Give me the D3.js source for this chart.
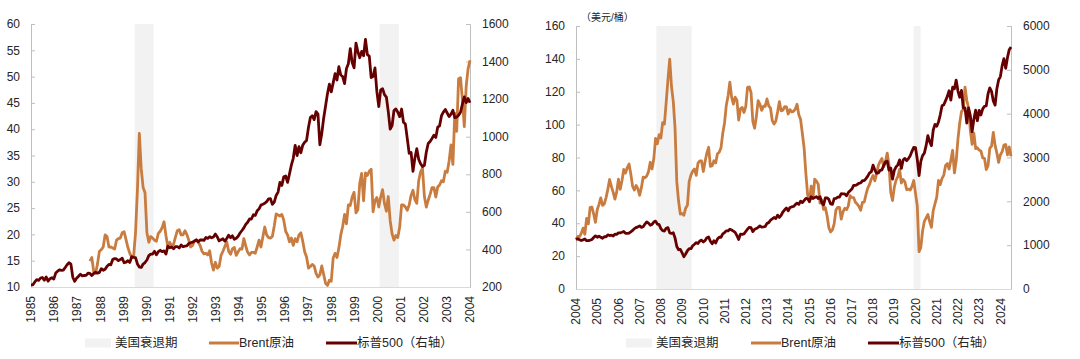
<!DOCTYPE html>
<html><head><meta charset="utf-8">
<script src="https://cdn.jsdelivr.net/npm/d3@7"></script>
<style>
html,body{margin:0;padding:0;background:#fff;}
svg{display:block;font-family:"Liberation Sans",Arial,"Noto Sans CJK SC",sans-serif;}
</style></head>
<body><svg id="c" width="1080" height="359"></svg>
<script>
// ---------- LEFT CHART DATA (monthly, axis 1985 -> 2004) ----------
const leftYears = d3.range(1985, 2005);
const leftYTicks = [10,15,20,25,30,35,40,45,50,55,60];
const leftY2Ticks = [200,400,600,800,1000,1200,1400,1600];
const leftRecessions = [[1989.49,1990.31],[2000.09,2000.92]];
const leftSpx = [211.3,
211.8,226.9,238.9,235.5,247.4,250.8,236.1,252.9,231.3,244.0,249.2,242.2,
274.1,284.2,291.7,288.4,290.1,304.0,318.7,329.8,321.8,251.8,230.3,247.1,
257.1,267.8,258.9,261.3,262.2,273.5,272.0,261.5,271.9,279.0,273.7,277.7,
297.5,288.9,294.9,309.6,320.5,318.0,346.1,351.5,349.2,340.4,346.0,353.4,
329.1,331.9,339.9,330.8,361.2,358.0,356.2,322.6,306.1,304.0,322.2,330.2,
343.9,367.1,375.2,375.3,389.8,371.2,387.8,395.4,387.9,392.5,375.2,417.1,
408.8,412.7,403.7,415.0,415.4,408.1,424.2,414.0,417.8,418.7,431.4,435.7,
438.8,443.4,451.7,440.2,450.2,450.5,448.1,463.6,458.9,467.8,461.8,466.5,
481.6,467.1,445.8,450.9,456.5,444.3,458.3,475.5,462.7,472.4,453.7,459.3,
470.4,487.4,500.7,514.7,533.4,544.8,562.1,561.9,584.4,581.5,605.4,615.9,
636.0,640.4,645.5,654.2,669.1,670.6,640.0,652.0,687.3,705.3,757.0,740.7,
786.2,790.8,757.1,801.3,848.3,885.1,954.3,899.5,947.3,914.6,955.4,970.4,
980.3,1049.3,1101.8,1111.8,1090.8,1133.8,1120.7,957.3,1017.0,1098.7,1163.6,1229.2,
1279.6,1238.3,1286.4,1335.2,1301.8,1372.7,1328.7,1320.4,1282.7,1362.9,1388.9,1469.3,
1394.5,1366.4,1498.6,1452.4,1420.6,1454.6,1430.8,1517.7,1436.5,1429.4,1315.2,1320.3,
1366.0,1239.9,1160.3,1249.5,1255.8,1224.4,1211.2,1133.6,1040.9,1059.8,1139.5,1148.1,
1130.2,1106.7,1147.4,1076.9,1067.1,989.8,911.6,916.1,815.3,885.8,936.3,879.8,
855.7,841.2,848.2,916.9,963.6,974.5,990.3,1008.0,996.0,1050.7,1058.2,1111.9,
1131.1,1144.9,1126.2,1107.3,1120.7,1140.8,1101.7,1104.2,1114.6,1130.2,1173.8,1211.9,
1181.3,1203.6,1180.6];
const leftBrentStart = 31;
const leftBrent = [
14.9,15.6,12.9,12.6,14.4,16.8,
17.1,17.6,19.9,19.6,17.6,17.6,17.4,17.2,18.9,19.2,19.3,20.3,
20.5,19.0,17.5,16.4,15.7,15.8,20.3,28.5,39.2,32.5,28.9,27.9,
20.3,18.5,19.6,19.3,18.9,18.7,20.2,20.6,21.3,22.4,19.8,17.6,
18.5,17.8,18.1,19.5,20.7,20.9,19.9,19.9,20.7,20.0,18.9,17.6,
17.9,18.8,18.9,18.5,17.9,16.8,16.3,16.4,16.1,16.9,14.6,13.2,
14.7,13.6,13.9,16.0,16.8,17.7,18.6,16.8,16.2,17.3,17.5,16.0,
16.7,17.3,17.2,19.2,17.8,16.6,16.1,16.6,16.6,16.4,17.6,18.9,
17.6,19.5,21.4,19.9,19.4,19.3,19.6,21.6,23.9,23.7,23.5,23.8,
22.7,20.6,19.9,18.6,19.3,17.9,19.2,18.6,19.9,20.3,18.7,16.7,
15.7,13.6,13.9,14.3,14.0,12.6,11.9,12.3,14.0,12.4,10.7,10.3,
11.3,11.1,15.5,16.4,15.6,17.4,19.9,21.5,23.8,22.0,25.6,25.5,
27.1,28.0,24.1,24.7,29.7,31.6,26.4,31.7,31.2,32.0,32.4,24.3,
26.4,27.0,25.2,27.1,28.5,25.9,24.4,27.2,22.6,20.1,18.9,19.8,
19.4,21.4,25.6,25.6,25.2,24.6,25.6,27.4,28.4,26.6,25.9,30.2,
31.9,32.6,27.2,25.2,26.5,27.6,28.9,28.9,27.1,29.0,29.4,30.2,
30.0,32.0,31.8,33.9,37.0,33.3,43.0,39.6,49.6,49.8,45.6,40.5,
48.2,51.5,53.1];

// ---------- RIGHT CHART DATA (monthly from Jan 2004) ----------
const rightYears = d3.range(2004, 2025);
const rightYTicks = [0,20,40,60,80,100,120,140,160];
const rightY2Ticks = [0,1000,2000,3000,4000,5000,6000];
const rightRecessions = [[2007.79,2009.45],[2019.91,2020.24]];
const rightSpx = [
1131,1145,1126,1107,1121,1141,1102,1104,1115,1130,1174,1212,
1181,1204,1181,1157,1192,1191,1234,1220,1229,1207,1249,1248,
1280,1281,1295,1311,1270,1270,1277,1304,1336,1378,1401,1418,
1438,1407,1421,1482,1531,1503,1455,1474,1527,1549,1481,1468,
1379,1331,1323,1386,1400,1280,1267,1283,1166,969,896,903,
826,735,798,873,919,919,987,1021,1057,1036,1096,1115,
1074,1104,1169,1187,1089,1031,1102,1049,1141,1183,1181,1258,
1286,1327,1326,1364,1345,1321,1292,1219,1131,1253,1247,1258,
1312,1366,1408,1398,1310,1362,1379,1407,1441,1412,1416,1426,
1498,1515,1569,1598,1631,1606,1686,1633,1682,1757,1806,1848,
1783,1859,1872,1884,1924,1960,1931,2003,1972,2018,2068,2059,
1995,2105,2068,2086,2107,2063,2104,1972,1920,2079,2080,2044,
1940,1932,2060,2065,2097,2099,2174,2171,2168,2126,2199,2239,
2279,2364,2363,2384,2412,2423,2470,2472,2519,2575,2648,2674,
2824,2714,2641,2648,2705,2718,2816,2902,2914,2712,2760,2507,
2704,2784,2834,2946,2752,2942,2980,2926,2977,3038,3141,3231,
3226,2954,2585,2912,3044,3100,3271,3500,3363,3270,3622,3756,
3714,3811,3973,4181,4204,4298,4395,4523,4308,4605,4567,4766,
4516,4374,4530,4132,4132,3785,4130,3955,3586,3872,4080,3840,
4077,3970,4109,4169,4180,4450,4589,4508,4288,4194,4568,4770,
4846,5096,5254,5036,5278,5460,5522];
const rightBrent = [
30.0,32.0,31.8,33.9,37.0,33.3,43.0,39.6,49.6,49.8,45.6,40.5,
48.2,51.5,55.4,50.9,51.8,55.6,60.6,66.6,62.4,58.9,54.7,58.9,
66.8,60.7,65.9,72.7,70.5,73.9,76.0,69.9,62.5,60.2,63.0,60.9,
57.0,61.8,68.1,67.6,68.7,71.4,77.1,73.0,79.2,91.6,88.3,93.9,
91.8,101.2,100.3,113.5,127.4,139.8,123.2,114.1,98.2,65.3,53.5,45.6,
45.9,44.8,49.2,50.9,65.4,69.3,71.7,73.0,69.1,76.6,77.9,77.9,
71.5,77.6,82.7,86.2,74.6,75.0,78.0,76.7,82.3,83.2,85.9,94.8,
101.0,111.8,117.4,125.9,116.7,112.5,116.7,114.9,102.8,109.6,110.5,107.4,
111.0,122.7,122.9,119.5,101.9,97.8,104.9,114.6,112.4,108.7,111.2,111.1,
115.6,111.4,110.0,102.4,100.4,102.2,107.7,114.0,108.4,108.8,110.9,110.8,
106.4,109.1,107.8,108.1,109.4,112.4,106.0,103.2,94.7,85.9,70.2,57.3,
53.0,62.6,55.1,66.8,65.6,63.6,52.2,54.2,48.4,49.6,44.6,37.3,
34.7,36.0,39.6,48.1,49.7,49.7,42.5,47.0,49.1,48.3,50.5,56.8,
55.7,55.6,52.8,51.7,50.3,47.9,52.7,52.9,57.5,61.4,63.6,66.9,
69.1,65.8,70.3,75.2,77.6,79.4,74.3,77.4,82.7,75.5,58.7,53.8,
61.9,66.3,68.4,72.8,64.5,66.6,65.2,60.4,60.8,60.2,62.4,66.0,
58.2,50.5,22.7,25.3,35.3,41.2,43.3,45.3,41.0,37.5,47.6,51.8,
55.9,66.1,63.5,67.3,69.3,75.1,76.3,73.0,78.5,84.4,70.6,77.8,
91.2,101.0,107.9,109.3,122.8,114.8,110.0,96.5,88.0,94.8,85.4,85.9,
84.5,83.9,79.8,79.5,72.7,74.9,85.6,86.9,95.3,87.4,82.8,77.0,
81.7,83.6,87.5,87.9,81.6,86.4,80.7];

const legendLabels = ["美国衰退期","Brent原油","标普500（右轴）"];
const unitLabel = "（美元/桶）";

// ---------- styles ----------
const ORANGE = "#c97c3f", DARK = "#660000", SHADE = "#f2f2f2";
const AXIS = "#bfbfbf", TEXT = "#262626";
const svg = d3.select("#c");

function drawChart(cfg) {
  const g = svg.append("g");
  const x = d3.scaleLinear().domain(cfg.xDomain).range([cfg.left, cfg.right]);
  const y = d3.scaleLinear().domain(cfg.yDomain).range([cfg.bottom, cfg.top]);
  const y2 = d3.scaleLinear().domain(cfg.y2Domain).range([cfg.bottom, cfg.top]);

  // recessions
  g.selectAll("rect.rec").data(cfg.recessions).enter().append("rect")
    .attr("x", d => x(d[0])).attr("width", d => x(d[1]) - x(d[0]))
    .attr("y", cfg.top).attr("height", cfg.bottom - cfg.top).attr("fill", SHADE);

  // axes
  const yAx = d3.axisRight(y).tickValues(cfg.yTicks).tickSize(4).tickFormat("");
  const yg = g.append("g").attr("transform", `translate(${cfg.left},0)`).call(yAx);
  const y2Ax = d3.axisLeft(y2).tickValues(cfg.y2Ticks).tickSize(4).tickFormat("");
  const y2g = g.append("g").attr("transform", `translate(${cfg.right},0)`).call(y2Ax);
  [yg, y2g].forEach(a => { a.selectAll("path,line").attr("stroke", AXIS); });
  const xg = g.append("g").attr("transform", `translate(0,${cfg.bottom})`)
    .call(d3.axisBottom(x).tickValues(cfg.years).tickSize(0).tickFormat(""));
  xg.select("path").attr("stroke", "#d9d9d9");

  // tick labels
  g.selectAll("text.yl").data(cfg.yTicks).enter().append("text")
    .attr("x", cfg.left - 11).attr("y", d => y(d)).attr("dy", "0.35em")
    .attr("text-anchor", "end").attr("font-size", 12).attr("fill", TEXT).text(d => d);
  g.selectAll("text.y2l").data(cfg.y2Ticks).enter().append("text")
    .attr("x", cfg.right + 12).attr("y", d => y2(d)).attr("dy", "0.35em")
    .attr("text-anchor", "start").attr("font-size", 12).attr("fill", TEXT).text(d => d);
  g.selectAll("text.xl").data(cfg.years).enter().append("text")
    .attr("transform", d => `translate(${x(d)},${cfg.bottom + 9}) rotate(-90)`)
    .attr("dy", "0.35em").attr("text-anchor", "end")
    .attr("font-size", 12).attr("fill", TEXT).text(d => d);

  // lines
  const lineOil = d3.line().x(d => x(d.t)).y(d => y(d.v));
  const lineSpx = d3.line().x(d => x(d.t)).y(d => y2(d.v));
  g.append("path").datum(cfg.oil).attr("d", lineOil).attr("fill", "none")
    .attr("stroke", ORANGE).attr("stroke-width", 2.8).attr("stroke-linejoin", "round");
  g.append("path").datum(cfg.spx).attr("d", lineSpx).attr("fill", "none")
    .attr("stroke", DARK).attr("stroke-width", 2.8).attr("stroke-linejoin", "round");

  // legend
  const L = cfg.legend, ly = 343;
  g.append("rect").attr("x", L[0]).attr("y", ly - 4.5).attr("width", 26).attr("height", 9).attr("fill", SHADE);
  g.append("text").attr("x", L[0] + 30).attr("y", ly).attr("dy", "0.35em").attr("font-size", 12.5).attr("fill", TEXT).text(legendLabels[0]);
  g.append("line").attr("x1", L[1]).attr("x2", L[1] + 30).attr("y1", ly).attr("y2", ly).attr("stroke", ORANGE).attr("stroke-width", 3);
  g.append("text").attr("x", L[1] + 30).attr("y", ly).attr("dy", "0.35em").attr("font-size", 12.5).attr("fill", TEXT).text(legendLabels[1]);
  g.append("line").attr("x1", L[2]).attr("x2", L[2] + 31).attr("y1", ly).attr("y2", ly).attr("stroke", DARK).attr("stroke-width", 3);
  g.append("text").attr("x", L[2] + 31).attr("y", ly).attr("dy", "0.35em").attr("font-size", 12.5).attr("fill", TEXT).text(legendLabels[2]);
  return g;
}

// left chart: monthly points spread over axis 1985..2004
const nL = leftSpx.length;
const tL = i => 1985 + i * 19 / (nL - 1);
drawChart({
  left: 31, right: 470, top: 24, bottom: 287,
  xDomain: [1985, 2004], yDomain: [10, 60], y2Domain: [200, 1600],
  years: leftYears, yTicks: leftYTicks, y2Ticks: leftY2Ticks, recessions: leftRecessions,
  spx: leftSpx.map((v, i) => ({t: tL(i), v})),
  oil: leftBrent.map((v, i) => ({t: tL(i + leftBrentStart), v})),
  legend: [85, 209, 326]
});

// right chart: monthly from 2004
const tR = i => 2004 + i / 12;
const gR = drawChart({
  left: 576, right: 1011, top: 26, bottom: 289,
  xDomain: [2004, 2024.5], yDomain: [0, 160], y2Domain: [0, 6000],
  years: rightYears, yTicks: rightYTicks, y2Ticks: rightY2Ticks, recessions: rightRecessions,
  spx: rightSpx.map((v, i) => ({t: tR(i), v})),
  oil: rightBrent.map((v, i) => ({t: tR(i), v})),
  legend: [626, 751, 868]
});
gR.append("text").attr("x", 581).attr("y", 17).attr("dy", "0.35em")
  .attr("font-size", 10).attr("fill", TEXT).text(unitLabel);
</script></body></html>
